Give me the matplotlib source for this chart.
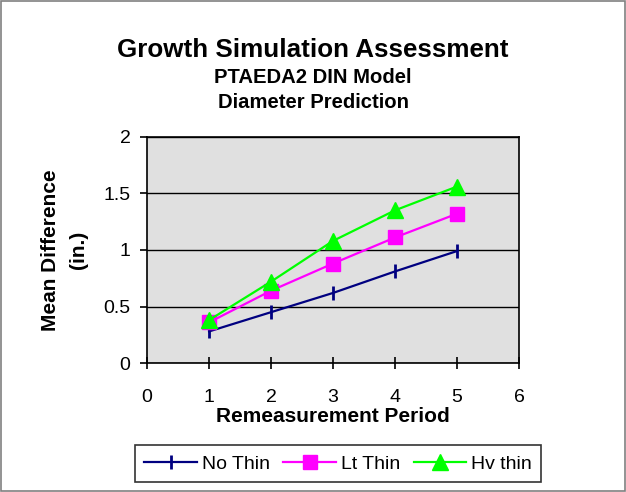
import matplotlib.pyplot as plt
from matplotlib.patches import Rectangle

plt.rcParams['font.family'] = ['Liberation Sans', 'DejaVu Sans']

periodo = [1, 2, 3, 4, 5]
no_thin = [0.28, 0.45, 0.62, 0.81, 0.99]
lt_thin = [0.36, 0.64, 0.88, 1.11, 1.32]
hv_thin = [0.38, 0.72, 1.08, 1.35, 1.56]

fig = plt.figure(figsize=(6.26, 4.92), dpi=100)
fig.patches.append(Rectangle((0.0015, 0.002), 0.997, 0.996, transform=fig.transFigure,
                             fill=False, edgecolor='#808080', linewidth=1.2))

ax = fig.add_axes([0.235, 0.262, 0.594, 0.46])
ax.set_facecolor('#E0E0E0')

ax.plot(periodo, no_thin, color='#000080', linewidth=1.6, marker='|',
        markersize=10, markeredgewidth=2, label='No Thin')
ax.plot(periodo, lt_thin, color='#FF00FF', linewidth=1.6, marker='s',
        markersize=10, label='Lt Thin')
ax.plot(periodo, hv_thin, color='#00FF00', linewidth=1.6, marker='^',
        markersize=11, label='Hv thin')

ax.set_xlim(0, 6)
ax.set_ylim(0, 2)
ax.set_xticks(range(0, 7))
ax.set_yticks([0, 0.5, 1, 1.5, 2])
ax.set_yticklabels(['0', '0.5', '1', '1.5', '2'])
ax.yaxis.grid(True, color='black', linewidth=1)
ax.set_axisbelow(True)
for s in ax.spines.values():
    s.set_color('black')
    s.set_linewidth(1.2)
ax.tick_params(axis='x', direction='inout', length=9, width=1.2, labelsize=14, pad=14)
ax.tick_params(axis='y', direction='out', length=5, width=1.2, labelsize=14, pad=7)

ax.set_xlabel('Remeasurement Period', fontsize=15, fontweight='bold', labelpad=1)
ax.set_ylabel('Mean Difference\n(in.)', fontsize=15, fontweight='bold',
              va='center', rotation_mode='default', linespacing=1.55)
ax.yaxis.set_label_coords(-0.222, 0.5)

fig.text(0.5, 0.884, 'Growth Simulation Assessment', ha='center', va='baseline',
         fontsize=18.7, fontweight='bold')
fig.text(0.5, 0.831, 'PTAEDA2 DIN Model', ha='center', va='baseline',
         fontsize=14.6, fontweight='bold')
fig.text(0.5, 0.780, 'Diameter Prediction', ha='center', va='baseline',
         fontsize=14.6, fontweight='bold')

leg = fig.legend(loc='center', bbox_to_anchor=(0.54, 0.057), ncol=3, fontsize=14,
                 frameon=True, fancybox=False, edgecolor='black', handlelength=2.7,
                 columnspacing=0.7, handletextpad=0.25, borderpad=0.5)
leg.get_frame().set_linewidth(1.2)

fig.savefig('out.png', dpi=100)
